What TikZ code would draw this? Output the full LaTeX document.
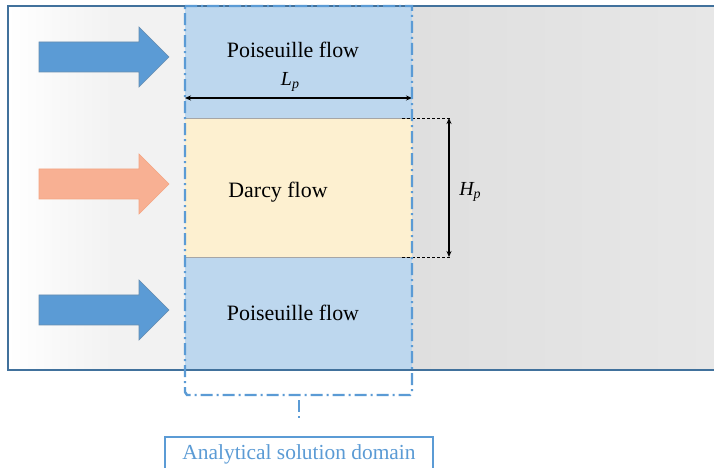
\documentclass[tikz,border=0pt]{standalone}
\usepackage{fontspec}
\setmainfont{Liberation Serif}
\usetikzlibrary{arrows.meta}
\definecolor{frameblue}{HTML}{41719C}
\definecolor{arrowblue}{HTML}{5B9BD5}
\definecolor{poisfill}{HTML}{BDD7EE}
\definecolor{darcyfill}{HTML}{FDF0D0}
\definecolor{salmon}{HTML}{F8B093}
\definecolor{salmonedge}{HTML}{F4A582}
\definecolor{domainblue}{HTML}{5B9BD5}
\definecolor{outletA}{HTML}{DFDFDF}
\definecolor{outletB}{HTML}{D9D9D9}
\definecolor{outletC}{HTML}{E7E7E7}
\tikzset{
  flowlabel/.style={font=\fontsize{22}{24}\selectfont, text=black, inner sep=0pt},
  dimlabel/.style={font=\fontsize{20}{22}\selectfont\itshape, inner sep=0pt},
  dimline/.style={draw=black, line width=1.3bp, {Stealth[length=6bp,width=5bp]}-{Stealth[length=6bp,width=5bp]}},
  guide/.style={draw=black, line width=0.9bp, dash pattern=on 3bp off 2bp},
  domainline/.style={draw=domainblue, line width=2.4bp, dash pattern=on 12bp off 4bp on 2bp off 4bp},
  bluearrow/.style={fill=arrowblue, draw=frameblue!80, line width=0.6bp},
  orangearrow/.style={fill=salmon, draw=salmonedge, line width=0.6bp},
}
\newcommand{\blockarrow}[2]{% style, centre line y
  \path[#1] (39,#2-15) -- (139,#2-15) -- (139,#2-30) -- (169,#2) -- (139,#2+30)
    -- (139,#2+15) -- (39,#2+15) -- cycle;}
\begin{document}
\begin{tikzpicture}[x=1bp,y=-1bp]
\useasboundingbox (0,0) rectangle (714,468);
\fill[white] (0,0) rectangle (714,468);

% channel background: inlet side and outlet side
\shade[left color=white, right color=black!5] (8,6) rectangle (110,370);
\fill[black!5] (110,6) rectangle (185,370);
\shade[left color=outletA, middle color=outletB, right color=outletC] (412,6) rectangle (714,370);

% layers of the analytical domain
\fill[poisfill] (185,6) rectangle (412,118);
\fill[darcyfill] (185,118) rectangle (412,257);
\fill[poisfill] (185,257) rectangle (412,370);
\draw[black!35, line width=0.8bp] (185,118) -- (412,118);
\draw[black!35, line width=0.8bp] (185,257) -- (412,257);

% channel walls
\draw[frameblue, line width=2bp] (714,6) -- (8,6) -- (8,370) -- (714,370);

% inlet arrows
\blockarrow{bluearrow}{57}
\blockarrow{orangearrow}{184}
\blockarrow{bluearrow}{310}

% region labels
\node[flowlabel] (pois1) at (293,50) {Poiseuille flow};
\node[flowlabel] (darcy) at (278,192) {Darcy flow};
\node[flowlabel] (pois2) at (293,313) {Poiseuille flow};

% length of the porous block
\coordinate (lpL) at (185,98);
\coordinate (lpR) at (412,98);
\draw[dimline] (lpL) -- (lpR);
\node[dimlabel] (lp) at (290,82) {L\raisebox{-0.35ex}{\fontsize{14}{16}\selectfont p}};

% height of the porous block
\coordinate (hpT) at (449,118);
\coordinate (hpB) at (449,257);
\coordinate (gT) at (402,118);
\coordinate (gB) at (402,257);
\draw[guide] (gT) -- (452,118);
\draw[guide] (gB) -- (452,257);
\draw[dimline] (hpT) -- (hpB);
\node[dimlabel] (hp) at (470,192) {H\raisebox{-0.35ex}{\fontsize{14}{16}\selectfont p}};

% analytical solution domain outline with its pointer
\draw[domainline] (185,6) -- (412,6) -- (412,392) -- (410,395) -- (187,395) -- (185,392) -- cycle;
\coordinate (stubTop) at (299,400);
\coordinate (stubBot) at (299,420);
\draw[domainline] (stubTop) -- (stubBot);

\node[draw=domainblue, line width=1.5bp, fill=white, text=domainblue,
      font=\fontsize{21.5}{23}\selectfont, minimum width=268bp, minimum height=36bp,
      inner sep=0pt, anchor=north] (domain) at (299,436) {Analytical solution domain};
\end{tikzpicture}
\end{document}
